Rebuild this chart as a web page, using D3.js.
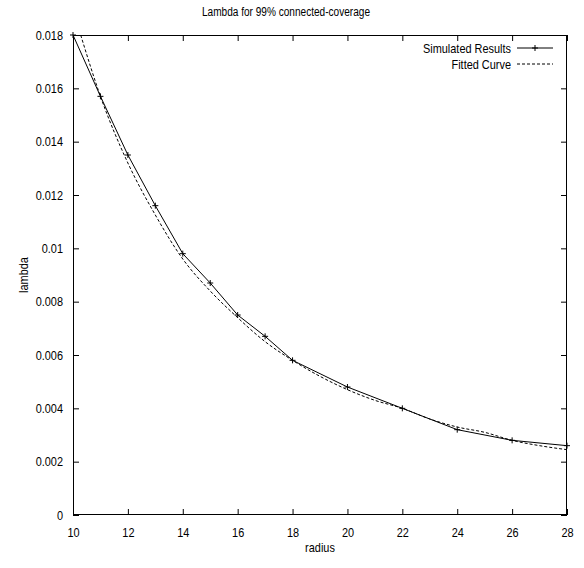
<!DOCTYPE html>
<html><head><meta charset="utf-8">
<script src="https://cdn.jsdelivr.net/npm/d3@7"></script>
<style>
body{margin:0;background:#fff;}
text{font-family:"Liberation Sans",Arial,sans-serif;fill:#000;}
</style></head>
<body><svg id="c" width="584" height="568"></svg>
<script>
const title = "Lambda for 99% connected-coverage";
const xLabel = "radius";
const yLabel = "lambda";
const simRadius = [10, 11, 12, 13, 14, 15, 16, 17, 18, 20, 22, 24, 26, 28];
const simLambda = [0.0180, 0.0157, 0.0135, 0.0116, 0.0098, 0.0087, 0.0075, 0.0067, 0.0058, 0.0048, 0.0040, 0.0032, 0.0028, 0.0026];
const fitRadius = [10.28, 11, 12, 13, 14, 15, 16, 17, 18, 19, 20, 21, 22, 23, 24, 25, 26, 27, 28];
const fitLambda = [0.0180, 0.0157, 0.0132, 0.01125, 0.0096, 0.0084, 0.0074, 0.0065, 0.0058, 0.0052, 0.0047, 0.0043, 0.0040, 0.0036, 0.0033, 0.0031, 0.0028, 0.0026, 0.00245];
const xTicks = [10, 12, 14, 16, 18, 20, 22, 24, 26, 28];
const yTicks = [0, 0.002, 0.004, 0.006, 0.008, 0.01, 0.012, 0.014, 0.016, 0.018];
const seriesNames = ["Simulated Results", "Fitted Curve"];

(function(){
const svg = d3.select("#c");
const L = 73, R = 567, T = 35, B = 515;
const x = d3.scaleLinear().domain([10, 28]).range([L, R]);
const y = d3.scaleLinear().domain([0, 0.018]).range([B, T]);

svg.append("defs").append("clipPath").attr("id","clip")
  .append("rect").attr("x",L).attr("y",T).attr("width",R-L).attr("height",B-T);

const fs = 13;
const gB = svg.append("g").attr("transform",`translate(0,${B})`)
  .call(d3.axisBottom(x).tickValues(xTicks).tickSizeInner(-6).tickSizeOuter(0).tickPadding(10).tickFormat(d3.format("d")));
const gT = svg.append("g").attr("transform",`translate(0,${T})`)
  .call(d3.axisTop(x).tickValues(xTicks).tickSizeInner(-6).tickSizeOuter(0).tickFormat(""));
const gL = svg.append("g").attr("transform",`translate(${L},0)`)
  .call(d3.axisLeft(y).tickValues(yTicks).tickSizeInner(-6).tickSizeOuter(0).tickPadding(10).tickFormat(d => d === 0 ? "0" : String(+d.toFixed(3))));
const gR = svg.append("g").attr("transform",`translate(${R},0)`)
  .call(d3.axisRight(y).tickValues(yTicks).tickSizeInner(-6).tickSizeOuter(0).tickFormat(""));
[gB, gT, gL, gR].forEach(g => {
  g.selectAll("text").style("font-size", fs + "px").attr("fill","#000");
  g.selectAll("line,path").attr("stroke","#000");
  g.select(".domain").remove();
  g.attr("font-family",null);
});
gB.selectAll("text").attr("dy","0.9em");
svg.append("rect").attr("x",L+0.5).attr("y",T+0.5).attr("width",R-L-1).attr("height",B-T-1)
  .attr("fill","none").attr("stroke","#000").attr("stroke-width",1);

svg.append("text").attr("x",286).attr("y",16).attr("text-anchor","middle").style("font-size","12px").text(title);
svg.append("text").attr("x",320).attr("y",552).attr("text-anchor","middle").style("font-size",fs+"px").text(xLabel);
svg.append("text").attr("transform","translate(28,275) rotate(-90)").attr("text-anchor","middle").style("font-size",fs+"px").text(yLabel);

const plot = svg.append("g").attr("clip-path","url(#clip)");
const simData = simRadius.map((r,i)=>({r, v: simLambda[i]}));
const fitData = fitRadius.map((r,i)=>({r, v: fitLambda[i]}));

plot.append("path").datum(fitData)
  .attr("d", d3.line().x(d=>x(d.r)).y(d=>y(d.v)).curve(d3.curveMonotoneX))
  .attr("fill","none").attr("stroke","#000").attr("stroke-width",1).attr("stroke-dasharray","3,2");
plot.append("path").datum(simData)
  .attr("d", d3.line().x(d=>x(d.r)).y(d=>y(d.v)))
  .attr("fill","none").attr("stroke","#000").attr("stroke-width",1);

const plus = (g, cx, cy) => {
  g.append("line").attr("x1",cx-3).attr("x2",cx+3).attr("y1",cy).attr("y2",cy).attr("stroke","#000");
  g.append("line").attr("x1",cx).attr("x2",cx).attr("y1",cy-3).attr("y2",cy+3).attr("stroke","#000");
};
const marks = svg.append("g");
simData.forEach(d => plus(marks, x(d.r), y(d.v)));

const lg = svg.append("g");
const ly = [48, 64];
seriesNames.forEach((n,i) => {
  lg.append("text").attr("x",511).attr("y",ly[i]).attr("dy","0.35em").attr("text-anchor","end").style("font-size",fs+"px").text(n);
  lg.append("line").attr("x1",517).attr("x2",553).attr("y1",ly[i]).attr("y2",ly[i])
    .attr("stroke","#000").attr("stroke-dasharray", i===1 ? "3,2" : null);
});
plus(lg, 535, ly[0]);

// condense glyphs like the original narrow font
svg.selectAll("text").each(function(){
  const w = this.getComputedTextLength();
  if (w > 0) d3.select(this).attr("textLength", w * 0.84).attr("lengthAdjust","spacingAndGlyphs");
});
})();
</script></body></html>
